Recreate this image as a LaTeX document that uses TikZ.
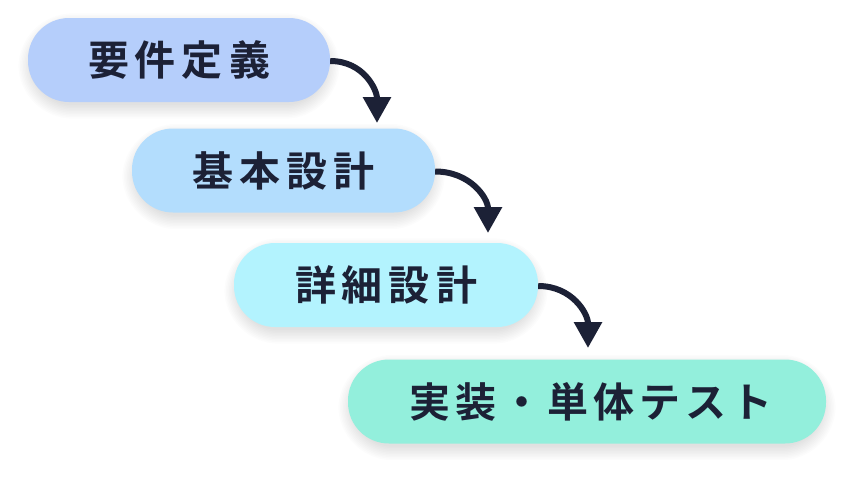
\documentclass[tikz,border=0pt]{standalone}
\usepackage{fontspec}
\newfontfamily\jpfont{Noto Sans CJK JP Bold}
\usetikzlibrary{arrows.meta,backgrounds}
\definecolor{cA}{HTML}{B5CEFB}
\definecolor{cB}{HTML}{B3DDFD}
\definecolor{cC}{HTML}{B3F3FE}
\definecolor{cD}{HTML}{93EFDC}
\definecolor{ink}{HTML}{1C2136}
\newcommand{\ls}{\kern6pt}
\begin{document}
\begin{tikzpicture}[x=1pt,y=-1pt,
  pill/.style={rounded corners=41pt, minimum height=84pt, inner sep=0pt,
    text=ink, font=\jpfont\fontsize{41pt}{46pt}\selectfont},
  shadowlayer/.style={fill=black, fill opacity=0.011},
  flow/.style={draw=ink, line width=6pt, -{Triangle[width=27pt,length=26pt]}}]
\useasboundingbox (0,0) rectangle (858,480);
\node[pill, fill=cA, minimum width=302pt] (b1) at (179,60) {要\ls 件\ls 定\ls 義};
\node[pill, fill=cB, minimum width=303pt] (b2) at (283.5,170.5) {基\ls 本\ls 設\ls 計};
\node[pill, fill=cC, minimum width=304pt] (b3) at (386,285) {詳\ls 細\ls 設\ls 計};
\node[pill, fill=cD, minimum width=478pt] (b4) at (587,401.5) {\kern8pt 実\kern5pt 装\kern5pt ・\kern5pt 単\kern5pt 体\kern5pt テ\kern5pt ス\kern5pt ト};
\begin{pgfonlayer}{background}
\fill[white] (0,0) rectangle (858,480);
\foreach \n in {b1,b2,b3,b4}{
  \foreach \i in {0,1.5,...,13.5}{
    \fill[shadowlayer, rounded corners=41pt+\i pt]
      ([xshift=-\i pt+4pt, yshift=-\i pt-3pt]\n.south west) rectangle
      ([xshift=\i pt-4pt, yshift=\i pt-9pt]\n.north east);
  }
}
\end{pgfonlayer}
\coordinate (t1) at (377,123);
\coordinate (t2) at (488,233);
\coordinate (t3) at (588,348);
\draw[flow] ([yshift=-1pt]b1.east) to[out=0,in=90,looseness=1.1] (t1);
\draw[flow] ([yshift=-1pt]b2.east) to[out=0,in=90,looseness=1.1] (t2);
\draw[flow] ([yshift=-1pt]b3.east) to[out=0,in=90,looseness=1.1] (t3);
\end{tikzpicture}
\end{document}
